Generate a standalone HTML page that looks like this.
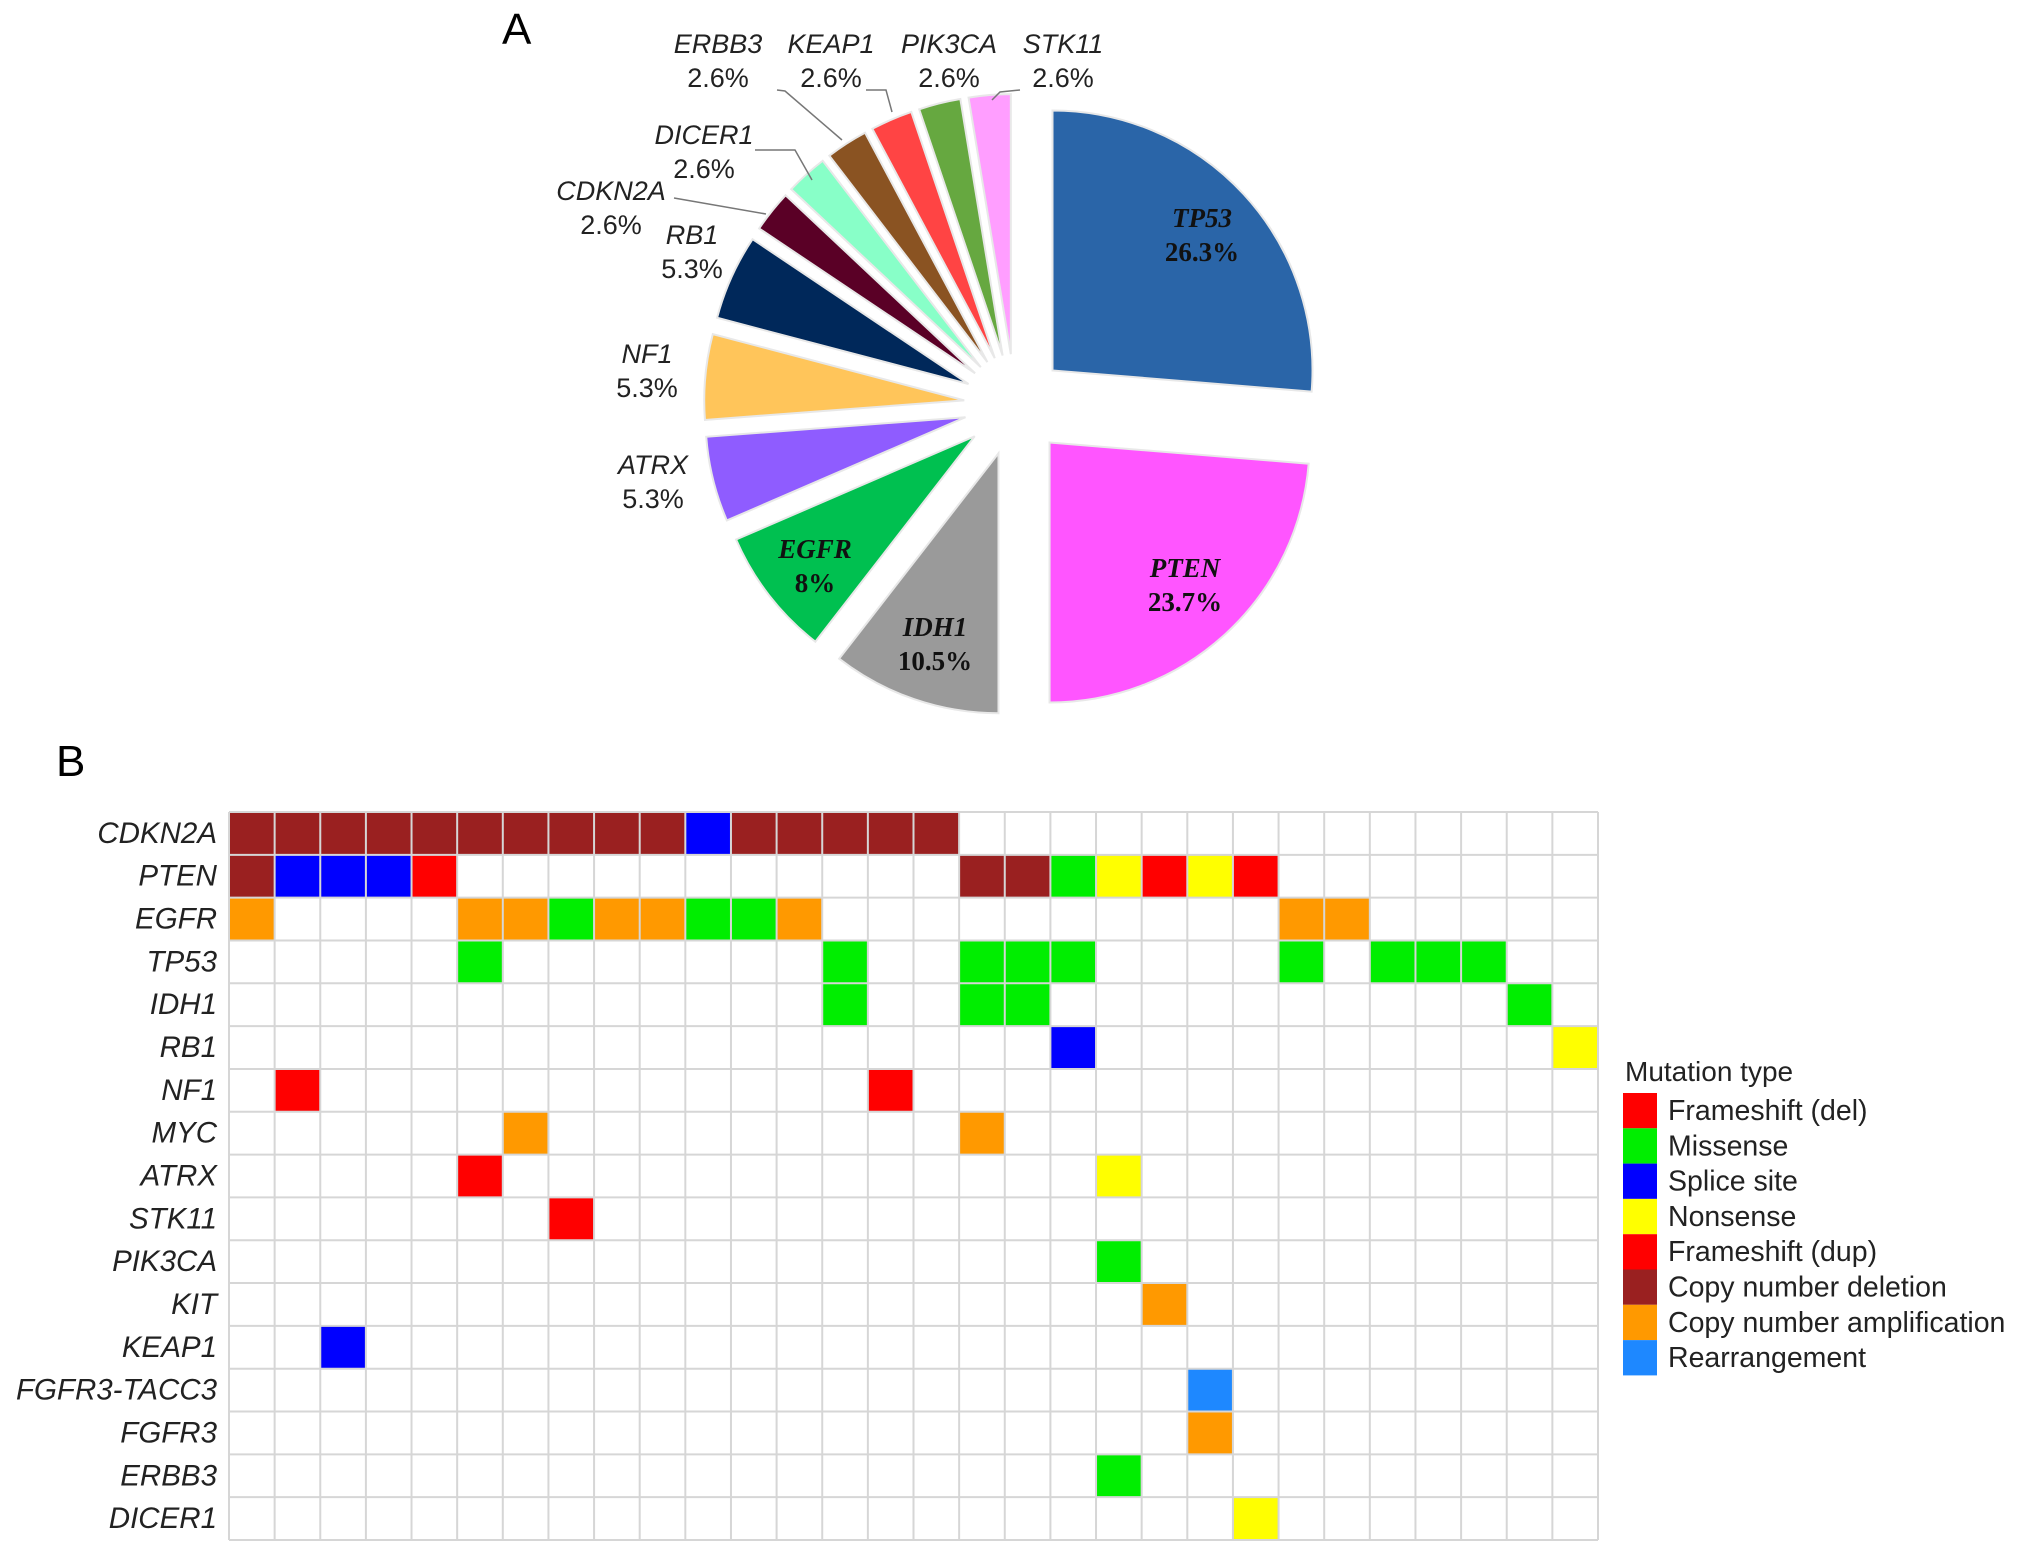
<!DOCTYPE html>
<html><head><meta charset="utf-8"><style>
html,body{margin:0;padding:0;background:#fff;}
svg{display:block;font-family:"Liberation Sans",sans-serif;}
</style></head><body>
<svg id="fig" width="2032" height="1553" viewBox="0 0 2032 1553" xmlns="http://www.w3.org/2000/svg">
<text x="502" y="44" font-size="44">A</text>
<text x="56" y="776" font-size="44">B</text>
<g id="pie"></g>
<g id="pielabels" font-size="27" fill="#222" text-anchor="middle" dominant-baseline="central">
<g stroke="#777" stroke-width="1.5" fill="none">
<polyline points="777,90 785,91 842,140"/>
<polyline points="866,90 886,90 892,112"/>
<polyline points="755,150 795,150 812,180"/>
<polyline points="674,198 766,214"/>
<polyline points="1020,90 1000,92 992,100"/>
</g>
</g>
<g id="grid"></g>
<g id="legend"></g>
</svg>
<script>
var NS="http://www.w3.org/2000/svg";
function mk(tag,attrs,parent){var e=document.createElementNS(NS,tag);for(var k in attrs)e.setAttribute(k,attrs[k]);parent.appendChild(e);return e;}

// ---- Pie data ----
var pieGenes=["TP53","PTEN","IDH1","EGFR","ATRX","NF1","RB1","CDKN2A","DICER1","ERBB3","KEAP1","PIK3CA","STK11"];
var pieValues=[26.3,23.7,10.5,8,5.3,5.3,5.3,2.6,2.6,2.6,2.6,2.6,2.6];
var pieLabels=["26.3%","23.7%","10.5%","8%","5.3%","5.3%","5.3%","2.6%","2.6%","2.6%","2.6%","2.6%","2.6%"];
var pieColors=["#2a65a8","#ff55ff","#9a9a9a","#00c050","#8f5cff","#ffc55a","#00285a","#5a0026","#88ffc8","#8a5322","#ff4444","#66a840","#ff9eff"];
var pieBold=[true,true,true,true,false,false,false,false,false,false,false,false,false];
var labelPos=[[1202,235],[1185,585],[935,644],[815,566],[653,482],[647,371],[692,252],[611,208],[704,152],[718,61],[831,61],[949,61],[1063,61]];

var cx=1015,cy=405,R=260,off=51;
var pie=document.getElementById('pie');
var total=pieValues.reduce(function(a,b){return a+b;},0);
var acc=0;
for(var i=0;i<pieValues.length;i++){
  var a0=acc/total*2*Math.PI, a1=(acc+pieValues[i])/total*2*Math.PI; acc+=pieValues[i];
  var am=(a0+a1)/2, ox=cx+off*Math.sin(am), oy=cy-off*Math.cos(am);
  var x0=ox+R*Math.sin(a0), y0=oy-R*Math.cos(a0), x1=ox+R*Math.sin(a1), y1=oy-R*Math.cos(a1);
  var large=(a1-a0)>Math.PI?1:0;
  var p=mk('path',{d:'M'+ox+','+oy+' L'+x0+','+y0+' A'+R+','+R+' 0 '+large+' 1 '+x1+','+y1+' Z',fill:pieColors[i],stroke:'#e8e8e8','stroke-width':2},pie);
  
  
}
var pl=document.getElementById('pielabels');
for(var i=0;i<pieGenes.length;i++){
  var x=labelPos[i][0], y=labelPos[i][1];
  var g=mk('g',{},pl);
  
  
  if(pieBold[i]){
    mk('text',{x:x,y:y-17,'font-family':'"Liberation Serif",serif','font-weight':'bold','font-style':'italic','font-size':27,fill:'#111'},g).textContent=pieGenes[i];
    mk('text',{x:x,y:y+17,'font-family':'"Liberation Serif",serif','font-weight':'bold','font-size':27,fill:'#111'},g).textContent=pieLabels[i];
  } else {
    mk('text',{x:x,y:y-17,'font-style':'italic'},g).textContent=pieGenes[i];
    mk('text',{x:x,y:y+17},g).textContent=pieLabels[i];
  }
}

// ---- Oncoprint data ----
var rowGenes=["CDKN2A","PTEN","EGFR","TP53","IDH1","RB1","NF1","MYC","ATRX","STK11","PIK3CA","KIT","KEAP1","FGFR3-TACC3","FGFR3","ERBB3","DICER1"];
var mutTypes=["Frameshift (del)","Missense","Splice site","Nonsense","Frameshift (dup)","Copy number deletion","Copy number amplification","Rearrangement"];
var mutColors=["#ff0000","#00ee00","#0000ff","#ffff00","#ff0000","#9a2020","#ff9900","#1e88ff"];
// entries: [row, column, mutation type index]
var mutRows=[0,0,0,0,0,0,0,0,0,0,0,0,0,0,0,0, 1,1,1,1,1,1,1,1,1,1,1,1, 2,2,2,2,2,2,2,2,2,2,2, 3,3,3,3,3,3,3,3,3, 4,4,4,4, 5,5, 6,6, 7,7, 8,8, 9, 10, 11, 12, 13, 14, 15, 16];
var mutCols=[0,1,2,3,4,5,6,7,8,9,10,11,12,13,14,15, 0,1,2,3,4,16,17,18,19,20,21,22, 0,5,6,7,8,9,10,11,12,23,24, 5,13,16,17,18,23,25,26,27, 13,16,17,28, 18,29, 1,14, 6,16, 5,19, 7, 19, 20, 2, 21, 21, 19, 22];
var mutKinds=[5,5,5,5,5,5,5,5,5,5,2,5,5,5,5,5, 5,2,2,2,0,5,5,1,3,4,3,4, 6,6,6,1,6,6,1,1,6,6,6, 1,1,1,1,1,1,1,1,1, 1,1,1,1, 2,3, 0,0, 6,6, 0,3, 0, 1, 6, 2, 7, 6, 1, 3];
var nCols=30;

var gx=229,gy=812,gw=1369,gh=728;
var cw=gw/nCols, rh=gh/rowGenes.length;
var grid=document.getElementById('grid');
for(var k=0;k<mutRows.length;k++){
  var c=mk('rect',{x:gx+mutCols[k]*cw,y:gy+mutRows[k]*rh,width:cw,height:rh,fill:mutColors[mutKinds[k]]},grid);
  
  
}
for(var j=0;j<=nCols;j++){
  var l=mk('line',{x1:gx+j*cw,x2:gx+j*cw,y1:gy,y2:gy+gh,stroke:'#d6d6d6','stroke-width':2},grid);
  
  
}
for(var r=0;r<=rowGenes.length;r++){
  var l=mk('line',{x1:gx,x2:gx+gw,y1:gy+r*rh,y2:gy+r*rh,stroke:'#d6d6d6','stroke-width':2},grid);
  
  
}
for(var r=0;r<rowGenes.length;r++){
  var t=mk('text',{x:217,y:gy+(r+0.5)*rh,'text-anchor':'end','dominant-baseline':'central','font-size':29.5,'font-style':'italic',fill:'#222'},grid);
  t.textContent=rowGenes[r];
  
  
}
// legend
var lg=document.getElementById('legend');
var tt=mk('text',{x:1625,y:1081,'font-size':28,fill:'#222'},lg);
tt.textContent="Mutation type";


for(var i=0;i<mutTypes.length;i++){
  var sy=1093+i*35.3;
  var sw=mk('rect',{x:1623,y:sy,width:34,height:35.3,fill:mutColors[i]},lg);
  
  
  var lt=mk('text',{x:1668,y:sy+18,'dominant-baseline':'central','font-size':28.5,fill:'#222'},lg);
  lt.textContent=mutTypes[i];
  
  
}
</script>
</body></html>
